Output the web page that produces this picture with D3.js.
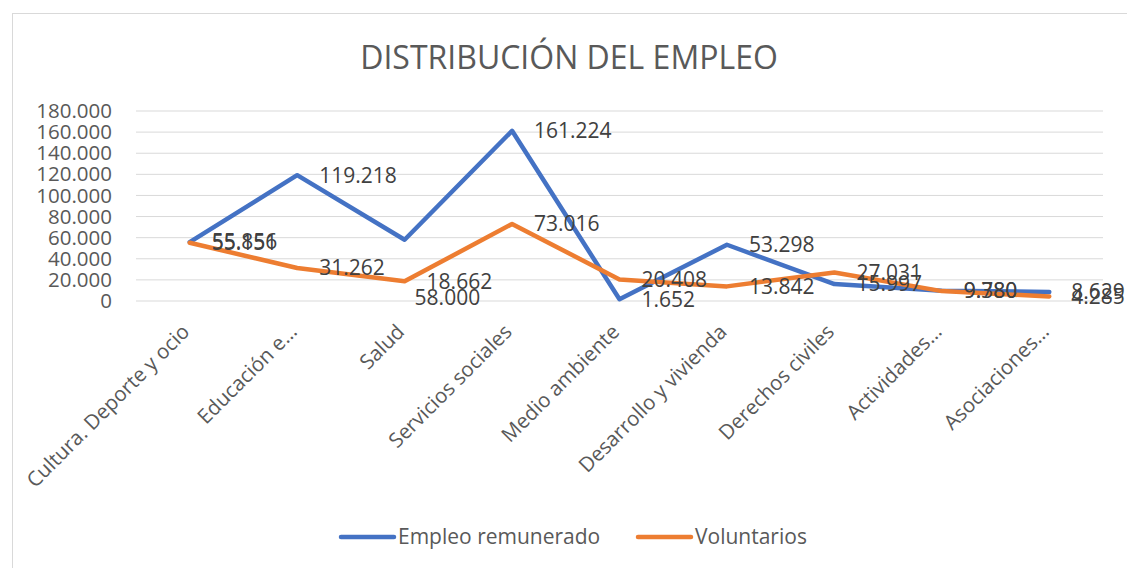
<!DOCTYPE html>
<html>
<head>
<meta charset="utf-8">
<script src="https://cdn.jsdelivr.net/npm/d3@7"></script>
<style>
  body { margin: 0; background: #fff; }
  text { font-family: "Open Sans", "Noto Sans", sans-serif; }
</style>
</head>
<body>
<div id="chart"></div>
<script>
// data
var categories = ["Cultura. Deporte y ocio", "Educación e…", "Salud", "Servicios sociales",
  "Medio ambiente", "Desarrollo y vivienda", "Derechos civiles", "Actividades…", "Asociaciones…"];
var remunerado = [55856, 119218, 58000, 161224, 1652, 53298, 15997, 9780, 8629];
var voluntarios = [55151, 31262, 18662, 73016, 20408, 13842, 27031, 9380, 4285];
var yTicks = [0, 20000, 40000, 60000, 80000, 100000, 120000, 140000, 160000, 180000];

var svgWidth = 1127;
var svgHeight = 568;

var margin = { top: 111, bottom: 267, right: 24, left: 136 };
var width = svgWidth - margin.left - margin.right;
var height = svgHeight - margin.top - margin.bottom;

var fmt = d3.formatLocale({ decimal: ",", thousands: ".", grouping: [3] }).format(",d");

var svg = d3.select("#chart")
  .append("svg")
  .attr("width", svgWidth)
  .attr("height", svgHeight);

// chart frame
svg.append("rect")
  .attr("x", 12.5).attr("y", 13.5)
  .attr("width", 1200).attr("height", 600)
  .attr("fill", "none")
  .attr("stroke", "#d9d9d9");

svg.append("text")
  .attr("x", 569).attr("y", 69)
  .attr("text-anchor", "middle")
  .attr("font-size", 32)
  .attr("fill", "#595959")
  .text("DISTRIBUCIÓN DEL EMPLEO");

var chartGroup = svg.append("g")
  .attr("transform", `translate(${margin.left}, ${margin.top})`);

var xScale = d3.scaleBand()
  .domain(categories)
  .range([0, width])
  .padding(0);

var yScale = d3.scaleLinear()
  .domain([0, 180000])
  .range([height, 0]);

var cx = d => xScale(d) + xScale.bandwidth() / 2;

// gridlines
chartGroup.append("g")
  .selectAll("line")
  .data(yTicks)
  .enter()
  .append("line")
  .attr("x1", 0).attr("x2", width)
  .attr("y1", d => yScale(d)).attr("y2", d => yScale(d))
  .attr("stroke", "#d9d9d9")
  .attr("stroke-width", 1);

// y axis
var yAxis = d3.axisLeft(yScale).tickValues(yTicks).tickFormat(d => d === 0 ? "0" : fmt(d)).tickSize(0).tickPadding(24);
var yG = chartGroup.append("g").call(yAxis);
yG.select(".domain").remove();
yG.selectAll("text")
  .attr("font-size", 20.5)
  .attr("fill", "#595959")
  .style("font-family", "'Open Sans', sans-serif");

// x axis labels
var xG = chartGroup.append("g")
  .attr("transform", `translate(0, ${height})`);
xG.selectAll("text")
  .data(categories)
  .enter()
  .append("text")
  .attr("transform", d => `translate(${cx(d) - 4}, 27) rotate(-45)`)
  .attr("text-anchor", "end")
  .attr("dy", "0.35em")
  .attr("font-size", 20.5)
  .attr("fill", "#595959")
  .text(d => d);

var series = [
  { name: "Empleo remunerado", values: remunerado, color: "#4472C4" },
  { name: "Voluntarios", values: voluntarios, color: "#ED7D31" }
];

var line = d3.line()
  .x((d, i) => cx(categories[i]))
  .y(d => yScale(d));

series.forEach(function(s) {
  chartGroup.append("path")
    .datum(s.values)
    .attr("d", line)
    .attr("fill", "none")
    .attr("stroke", s.color)
    .attr("stroke-width", 4.5)
    .attr("stroke-linejoin", "round")
    .attr("stroke-linecap", "round");
});

// label nudges (Salud label for blue was moved in the original)
var labelShift = { "0-2": [-12, 58] };

series.forEach(function(s, si) {
  chartGroup.append("g")
    .selectAll("text")
    .data(s.values)
    .enter()
    .append("text")
    .attr("x", (d, i) => cx(categories[i]) + 22 + (labelShift[si + "-" + i] ? labelShift[si + "-" + i][0] : 0))
    .attr("y", (d, i) => yScale(d) + (labelShift[si + "-" + i] ? labelShift[si + "-" + i][1] : 0))
    .attr("dy", "0.35em")
    .attr("font-size", 21)
    .attr("fill", "#404040")
    .text(d => fmt(d));
});

// legend
var legend = svg.append("g");
var legendItems = [
  { name: series[0].name, color: series[0].color, x: 341 },
  { name: series[1].name, color: series[1].color, x: 638 }
];
legendItems.forEach(function(l) {
  legend.append("line")
    .attr("x1", l.x).attr("x2", l.x + 53)
    .attr("y1", 537).attr("y2", 537)
    .attr("stroke", l.color)
    .attr("stroke-width", 4.5)
    .attr("stroke-linecap", "round");
  legend.append("text")
    .attr("x", l.x + 57).attr("y", 537)
    .attr("dy", "0.35em")
    .attr("font-size", 21)
    .attr("fill", "#595959")
    .text(l.name);
});
</script>
</body>
</html>
